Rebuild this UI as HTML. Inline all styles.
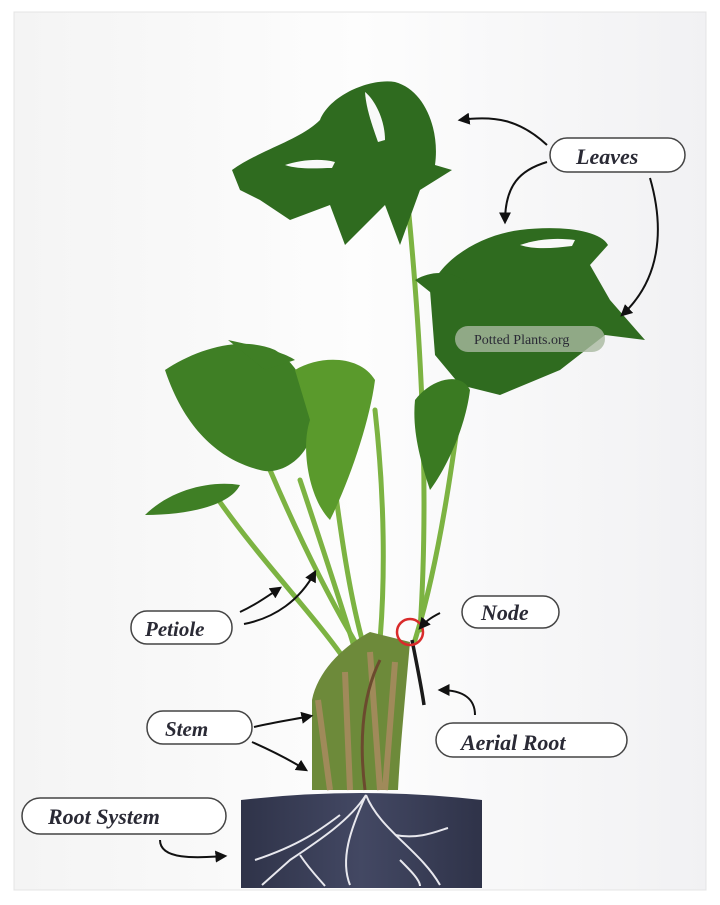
<!DOCTYPE html>
<html><head><meta charset="utf-8"><style>
html,body{margin:0;padding:0;background:#fff;width:720px;height:905px;overflow:hidden}
svg{display:block}
text{font-family:"Liberation Serif",serif;font-weight:bold;font-style:italic;fill:#2a2a35}
</style></head><body>
<svg width="720" height="905" viewBox="0 0 720 905">
<defs>
<linearGradient id="bg" x1="0" y1="0" x2="1" y2="0"><stop offset="0" stop-color="#f4f4f4"/><stop offset="0.5" stop-color="#fdfdfd"/><stop offset="1" stop-color="#f1f1f3"/></linearGradient>
<linearGradient id="pot" x1="0" y1="0" x2="1" y2="0"><stop offset="0" stop-color="#2f3349"/><stop offset="0.5" stop-color="#434863"/><stop offset="1" stop-color="#2f3349"/></linearGradient>
<marker id="ah" viewBox="0 0 10 10" refX="8" refY="5" markerWidth="6" markerHeight="6" orient="auto"><path d="M0,0L10,5L0,10z" fill="#111"/></marker>
</defs>
<rect x="14" y="12" width="692" height="878" fill="url(#bg)" stroke="#e4e4e4"/>
<g stroke="#7cb342" stroke-width="5" fill="none" stroke-linecap="round">
<path d="M405,175 C420,320 430,480 420,630"/>
<path d="M470,330 C455,450 440,560 415,640"/>
<path d="M270,470 C300,540 330,600 360,650"/>
<path d="M330,450 C340,530 350,600 365,650"/>
<path d="M375,410 C385,500 385,580 380,640"/>
<path d="M215,495 C260,560 310,610 345,660"/>
<path d="M300,480 C320,540 340,600 355,650"/>
</g>
<path d="M312,700 C318,670 345,645 370,632 L410,642 C405,700 400,750 398,790 L312,790 Z" fill="#6d8a3a"/>
<path d="M318,700 L330,790 M345,672 L350,790 M370,652 L380,790 M395,662 L385,790" stroke="#a08a5a" stroke-width="6"/>
<path d="M380,660 C360,700 360,750 365,790" stroke="#6b4a2e" stroke-width="3" fill="none"/>
<path d="M412,640 C418,670 422,690 424,705" stroke="#1a1a1a" stroke-width="3.5" fill="none"/>
<g fill="#2f6b1f">
<path d="M232,170 C260,150 300,140 320,120 C330,95 370,78 395,82 C425,90 440,130 435,165 L452,170 L420,190 L400,245 L385,205 L345,245 L330,205 L290,220 L260,200 L240,190 Z"/>
<path d="M430,290 C440,260 480,235 520,230 C560,225 600,230 608,245 L590,265 L610,300 L645,340 L605,335 L560,370 L500,395 L460,385 L435,355 Z"/>
<path d="M415,280 C440,265 470,275 480,300 L440,300 Z"/>
<path d="M165,370 C195,350 240,335 275,350 C300,365 318,400 310,440 C300,465 275,475 260,470 C220,460 185,430 165,370 Z" fill="#3f7f25"/>
<path d="M228,340 C250,345 280,350 295,360 L265,370 Z" fill="#3f7f25"/>
<path d="M295,370 C320,355 360,355 375,380 C370,420 350,480 330,520 C310,500 300,450 310,420 Z" fill="#5a9a2c"/>
<path d="M145,515 C170,490 210,480 240,485 C230,505 190,515 145,515 Z" fill="#3f7f25"/>
<path d="M415,400 C430,380 460,370 470,390 C465,430 445,470 430,490 C420,460 412,430 415,400 Z" fill="#3a7a22"/>
</g>
<g fill="#f9f9f9">
<path d="M365,92 C375,100 385,120 385,140 L378,142 C372,125 366,108 365,92 Z"/>
<path d="M285,165 C300,160 320,158 335,162 L332,168 C318,168 300,170 285,165 Z"/>
<path d="M520,245 C540,238 560,238 575,240 L572,246 C555,248 535,250 520,245 Z"/>
</g>
<circle cx="410" cy="632" r="13" fill="none" stroke="#d92b2b" stroke-width="2.5"/>
<rect x="455" y="326" width="150" height="26" rx="13" fill="#a9b9a0" opacity="0.8"/>
<text x="474" y="344" font-size="14" style="font-style:normal;font-weight:normal" fill="#333">Potted Plants.org</text>
<path d="M241,800 Q361,786 482,800 L482,888 L241,888 Z" fill="url(#pot)"/>
<g stroke="#e8e8ee" stroke-width="2" fill="none">
<path d="M366,795 C350,820 320,840 290,860 L262,885"/>
<path d="M366,795 C380,830 420,850 440,885"/>
<path d="M340,815 C320,830 300,845 255,860"/>
<path d="M366,795 C350,830 340,860 350,885"/>
<path d="M395,835 C420,840 440,830 448,828"/>
<path d="M300,855 C310,870 320,880 325,886"/>
<path d="M400,860 C410,870 420,880 420,886"/>
</g>
<g fill="#fff" stroke="#444" stroke-width="1.5">
<rect x="550" y="138" width="135" height="34" rx="17"/>
<rect x="131" y="611" width="101" height="33" rx="16"/>
<rect x="462" y="596" width="97" height="32" rx="16"/>
<rect x="147" y="711" width="105" height="33" rx="16"/>
<rect x="436" y="723" width="191" height="34" rx="17"/>
<rect x="22" y="798" width="204" height="36" rx="18"/>
</g>
<text x="576" y="164" font-size="22">Leaves</text>
<text x="145" y="636" font-size="21">Petiole</text>
<text x="481" y="620" font-size="22">Node</text>
<text x="165" y="736" font-size="21">Stem</text>
<text x="461" y="750" font-size="22">Aerial Root</text>
<text x="48" y="824" font-size="22">Root System</text>
<g stroke="#111" stroke-width="2" fill="none" marker-end="url(#ah)">
<path d="M547,145 C520,120 495,115 460,120"/>
<path d="M547,162 C520,170 505,185 505,222"/>
<path d="M650,178 C665,230 660,280 622,315"/>
<path d="M240,612 C255,605 265,598 280,588"/>
<path d="M244,624 C275,618 300,600 315,572"/>
<path d="M440,613 C430,618 425,622 420,628"/>
<path d="M475,715 C475,700 465,690 440,690"/>
<path d="M254,727 C275,722 290,720 311,716"/>
<path d="M252,742 C270,750 290,760 306,770"/>
<path d="M160,840 C160,860 195,858 225,856"/>
</g>
</svg>
</body></html>
